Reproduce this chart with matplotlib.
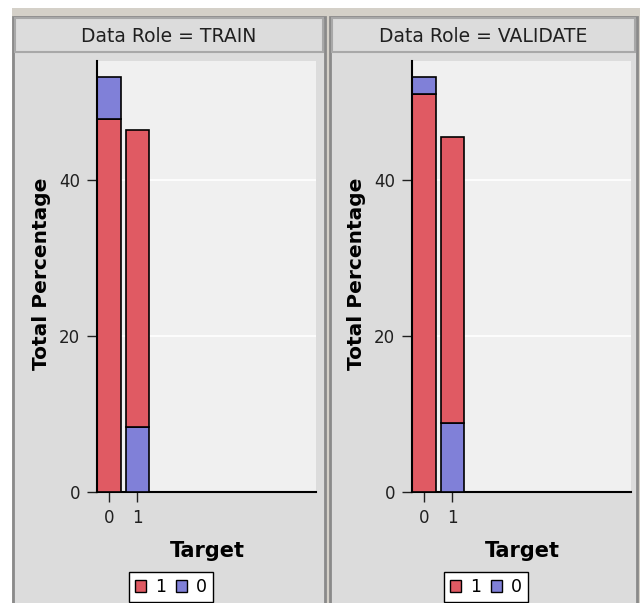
import matplotlib
matplotlib.use("Agg")
import matplotlib.pyplot as plt
from matplotlib.patches import Rectangle, Patch

W, H = 640, 603

# dane
role = ["TRAIN", "VALIDATE"]
cele = ["0", "1"]
# procent dla serii "1" (czerwona) i "0" (niebieska) przy kazdym Target
seria_1 = {"TRAIN": [47.9, 38.1], "VALIDATE": [51.1, 36.8]}
seria_0 = {"TRAIN": [5.3, 8.4], "VALIDATE": [2.1, 8.8]}
# ktora seria lezy na dole slupka
kolejnosc = [["1", "0"], ["0", "1"]]

kolor = {"1": "#e05a63", "0": "#8080d8"}


def fx(px):
    return px / W


def fy(py):
    return 1 - py / H


def prost(fig, x0, y0, x1, y1, **kw):
    fig.patches.append(Rectangle((fx(x0), fy(y1)), fx(x1) - fx(x0), fy(y0) - fy(y1),
                                 transform=fig.transFigure, figure=fig, zorder=-1, **kw))


fig = plt.figure(figsize=(W / 100, H / 100), dpi=100)
fig.patch.set_facecolor("white")

prost(fig, 12, 8, 640, 603, facecolor="#d4d0c8", edgecolor="none")

panele = [(13, 325), (330, 637)]
osie_x = [(97, 316), (412, 631)]

for i, r in enumerate(role):
    x0, x1 = panele[i]
    prost(fig, x0, 17, x1, 606, facecolor="#dcdcdc", edgecolor="#8a8a8a", linewidth=2)
    prost(fig, x0 + 2, 18, x1 - 2, 52, facecolor="#dcdcdc", edgecolor="#a8a8a8", linewidth=1.5)
    fig.text(fx((x0 + x1) / 2), fy(36), "Data Role = " + r, ha="center", va="center",
             fontsize=13.5, color="#202020")

    ax0, ax1 = osie_x[i]
    ax = fig.add_axes([fx(ax0), fy(492), fx(ax1) - fx(ax0), fy(61) - fy(492)])
    ax.set_facecolor("#f0f0f0")
    dol = [0, 0]
    for j in range(len(cele)):
        for s in kolejnosc[j]:
            v = seria_1[r][j] if s == "1" else seria_0[r][j]
            ax.bar(j, v, width=0.84, bottom=dol[j], color=kolor[s], edgecolor="black",
                   linewidth=1.2, zorder=3)
            dol[j] += v
    ax.set_xlim(-0.42, 7.26)
    ax.set_ylim(0, 55.3)
    ax.set_yticks([0, 20, 40])
    ax.set_xticks([0, 1])
    ax.set_xticklabels(cele)
    ax.grid(axis="y", color="white", linewidth=1.2, zorder=0)
    for s in ["top", "right"]:
        ax.spines[s].set_visible(False)
    ax.spines["left"].set_linewidth(1.5)
    ax.spines["bottom"].set_linewidth(1.5)
    ax.spines["left"].set_zorder(4)
    ax.tick_params(axis="both", length=7, width=1, labelsize=12, colors="#202020", pad=5)

    fig.text(fx(ax0 - 55), fy(274), "Total Percentage", rotation=90, ha="center",
             va="center", fontsize=14.5, fontweight="bold")
    fig.text(fx(ax0 + 110), fy(551), "Target", ha="center", va="center",
             fontsize=15, fontweight="bold")

    uchwyty = [Patch(facecolor=kolor["1"], edgecolor="black"),
               Patch(facecolor=kolor["0"], edgecolor="black")]
    fig.legend(uchwyty, ["1", "0"], loc="center", ncol=2,
               bbox_to_anchor=(fx(ax0 + 74), fy(587)), frameon=True, fancybox=False,
               edgecolor="black", facecolor="white", framealpha=1, fontsize=12.5,
               handlelength=0.65, handleheight=0.65, handletextpad=0.5,
               columnspacing=0.6, borderpad=0.35, borderaxespad=0)

fig.savefig("out.png", dpi=100)
